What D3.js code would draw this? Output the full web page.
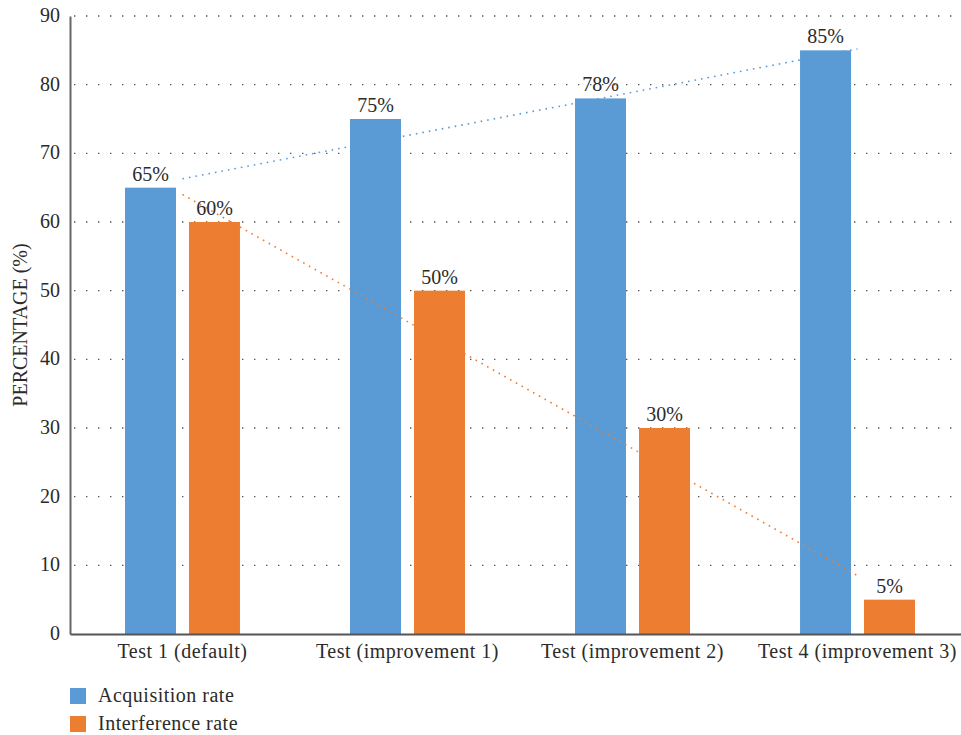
<!DOCTYPE html>
<html lang="en">
<head>
    <meta charset="UTF-8">
    <title>Acquisition vs Interference</title>
    <style>
        body { margin: 0; padding: 0; background: #fff; }
        svg text { font-family: "Liberation Serif", "Times New Roman", serif; fill: #2b2b2b; }
    </style>
</head>
<body>
    <svg id="chart"></svg>
    <script src="https://cdnjs.cloudflare.com/ajax/libs/d3/7.9.0/d3.min.js"></script>
    <script>
        const categories = ['Test 1 (default)', 'Test (improvement 1)', 'Test (improvement 2)', 'Test 4 (improvement 3)'];
        const seriesNames = ['Acquisition rate', 'Interference rate'];
        const acquisition = [65, 75, 78, 85];
        const interference = [60, 50, 30, 5];
        const yTicks = [0, 10, 20, 30, 40, 50, 60, 70, 80, 90];
        const colors = ['#5b9bd5', '#ed7d31'];

        const width = 961, height = 735;
        const mLeft = 70, mTop = 16, mBottom = 634, mRight = 970;

        const svg = d3.select('#chart').attr('width', width).attr('height', height);

        const y = d3.scaleLinear().domain([0, 90]).range([mBottom, mTop]);
        const x0 = d3.scaleBand().domain(categories).range([mLeft, mRight])
            .paddingInner(0.489).paddingOuter(0.2444);
        const x1 = d3.scaleBand().domain(seriesNames).range([0, x0.bandwidth()]).paddingInner(0.203);

        // dotted grid
        svg.append('g').selectAll('line')
            .data(yTicks.filter(t => t > 0))
            .enter().append('line')
            .attr('x1', mLeft).attr('x2', width)
            .attr('y1', d => y(d)).attr('y2', d => y(d))
            .attr('stroke', '#555').attr('stroke-width', 1.4)
            .attr('stroke-dasharray', '1.4,10.6')
            .attr('stroke-dashoffset', -4);

        const data = categories.map((c, i) => ({ cat: c, values: [acquisition[i], interference[i]] }));

        const groups = svg.append('g').selectAll('g')
            .data(data)
            .enter().append('g')
            .attr('transform', d => `translate(${x0(d.cat)},0)`);

        groups.selectAll('rect')
            .data(d => d.values.map((v, i) => ({ name: seriesNames[i], value: v, i })))
            .enter().append('rect')
            .attr('x', d => x1(d.name))
            .attr('y', d => y(d.value))
            .attr('width', x1.bandwidth())
            .attr('height', d => mBottom - y(d.value))
            .attr('fill', d => colors[d.i]);

        groups.selectAll('text.val')
            .data(d => d.values.map((v, i) => ({ name: seriesNames[i], value: v })))
            .enter().append('text')
            .attr('class', 'val')
            .attr('x', d => x1(d.name) + x1.bandwidth() / 2)
            .attr('y', d => y(d.value) - 7)
            .attr('text-anchor', 'middle')
            .style('font-size', '20px')
            .text(d => d.value + '%');

        // linear trendlines through the category centres
        function trend(vals) {
            const n = vals.length;
            const xs = vals.map((v, i) => i + 1);
            const mx = d3.mean(xs), my = d3.mean(vals);
            const slope = d3.sum(xs.map((xv, i) => (xv - mx) * (vals[i] - my))) / d3.sum(xs.map(xv => (xv - mx) ** 2));
            return [1, n].map(xv => ({ xi: xv - 1, v: my + slope * (xv - mx) }));
        }
        const cx = i => x0(categories[i]) + x0.bandwidth() / 2;
        [acquisition, interference].forEach((vals, k) => {
            svg.append('path')
                .datum(trend(vals))
                .attr('d', d3.line().x(d => cx(d.xi)).y(d => y(d.v)))
                .attr('fill', 'none')
                .attr('stroke', colors[k])
                .attr('stroke-width', 1.6)
                .attr('stroke-dasharray', '1.6,5');
        });

        // axes
        const yAxis = svg.append('g')
            .attr('transform', `translate(${mLeft},0)`)
            .call(d3.axisLeft(y).tickValues(yTicks).tickSize(0).tickPadding(10));
        yAxis.select('.domain').attr('stroke', '#666').attr('stroke-width', 2);
        yAxis.selectAll('text').style('font-size', '20px').attr('fill', '#2b2b2b').attr('dy', '0.28em');

        const xAxis = svg.append('g')
            .attr('transform', `translate(0,${mBottom})`)
            .call(d3.axisBottom(x0).tickSize(0).tickPadding(10));
        xAxis.select('.domain').attr('stroke', '#555').attr('stroke-width', 2);
        xAxis.selectAll('text').style('font-size', '20px').style('letter-spacing', '0.5px').attr('fill', '#2b2b2b');

        svg.append('text')
            .attr('transform', `translate(27,${(mTop + mBottom) / 2}) rotate(-90)`)
            .attr('text-anchor', 'middle')
            .style('font-size', '20px')
            .text('PERCENTAGE (%)');

        // legend
        const legend = svg.append('g').selectAll('g')
            .data(seriesNames)
            .enter().append('g')
            .attr('transform', (d, i) => `translate(70,${688 + i * 28})`);
        legend.append('rect').attr('width', 16).attr('height', 16).attr('fill', (d, i) => colors[i]);
        legend.append('text').attr('x', 28).attr('y', 14).style('font-size', '20px').style('letter-spacing', '0.5px').text(d => d);
    </script>
</body>
</html>
